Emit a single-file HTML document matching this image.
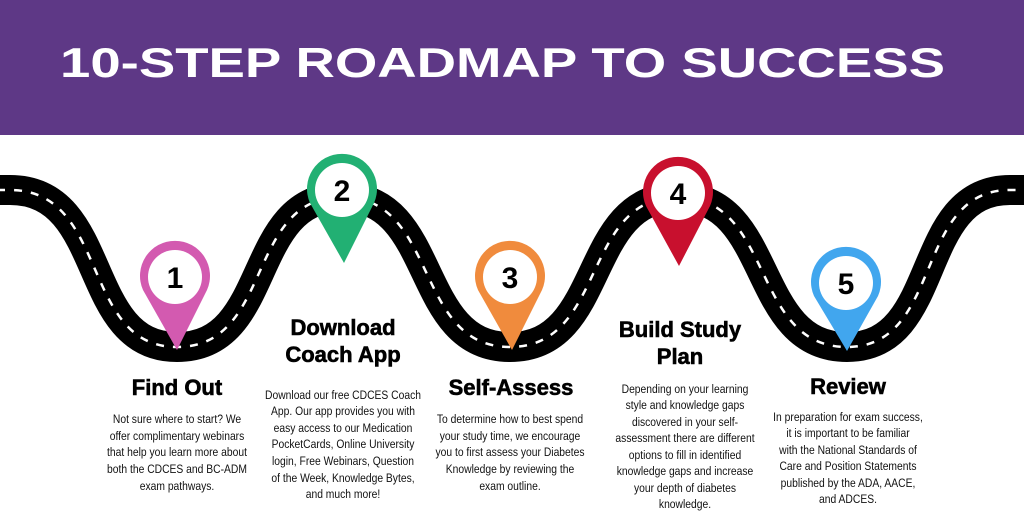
<!DOCTYPE html>
<html><head><meta charset="utf-8"><style>
html,body{margin:0;padding:0;background:#fff;}
svg{display:block;}
</style></head><body>
<svg width="1024" height="530" viewBox="0 0 1024 530" xmlns="http://www.w3.org/2000/svg">
<rect x="0" y="0" width="1024" height="135" fill="#5e3886"/>
<text x="60" y="77" fill="#fff" font-family="Liberation Sans, sans-serif" font-weight="bold" font-size="42" textLength="885" lengthAdjust="spacingAndGlyphs">10-STEP ROADMAP TO SUCCESS</text>

<g fill="none">
<path d="M-20,190 L10,190 C110,190 80,347 177,347 C274,347 245,197 342,197 C439,197 413,347 510,347 C607,347 581,197 678,197 C775,197 750,347 847,347 C944,347 913,190 1010,190 L1044,190" stroke="#000" stroke-width="30"/>
<path d="M-20,190 L10,190 C110,190 80,347 177,347 C274,347 245,197 342,197 C439,197 413,347 510,347 C607,347 581,197 678,197 C775,197 750,347 847,347 C944,347 913,190 1010,190 L1044,190" stroke="#fff" stroke-width="2.5" stroke-dasharray="8 9"/>
</g>

<g font-family="Liberation Sans, sans-serif" font-weight="bold" font-size="30" text-anchor="middle">
<g><path d="M143,290 A35,35 0 1 1 207,290 L177,350 Z" fill="#d35ab0"/><circle cx="175" cy="277" r="27" fill="#fff"/><text x="175" y="288">1</text></g>
<g><path d="M310,203 A35,35 0 1 1 374,203 L344,263 Z" fill="#22b073"/><circle cx="342" cy="190" r="27" fill="#fff"/><text x="342" y="201">2</text></g>
<g><path d="M478,290 A35,35 0 1 1 542,290 L512,350 Z" fill="#f08b3d"/><circle cx="510" cy="277" r="27" fill="#fff"/><text x="510" y="288">3</text></g>
<g><path d="M646,206 A35,35 0 1 1 710,206 L679,266 Z" fill="#c8102e"/><circle cx="678" cy="193" r="27" fill="#fff"/><text x="678" y="204">4</text></g>
<g><path d="M814,296 A35,35 0 1 1 878,296 L847,351 Z" fill="#41a6ee"/><circle cx="846" cy="283" r="27" fill="#fff"/><text x="846" y="294">5</text></g>
</g>

<g font-family="Liberation Sans, sans-serif" font-weight="bold" font-size="22" text-anchor="middle" fill="#000" stroke="#000" stroke-width="0.6">
<text x="177" y="395">Find Out</text>
<text x="343" y="335">Download</text>
<text x="343" y="362">Coach App</text>
<text x="511" y="395">Self-Assess</text>
<text x="680" y="337">Build Study</text>
<text x="680" y="364">Plan</text>
<text x="848" y="394">Review</text>
</g>

<g font-family="Liberation Sans, sans-serif" font-size="12" text-anchor="middle" fill="#111">
<g transform="translate(177,0) scale(0.86,1)">
<text x="0" y="423">Not sure where to start? We</text>
<text x="0" y="440">offer complimentary webinars</text>
<text x="0" y="456">that help you learn more about</text>
<text x="0" y="473">both the CDCES and BC-ADM</text>
<text x="0" y="490">exam pathways.</text>
</g>
<g transform="translate(343,0) scale(0.86,1)">
<text x="0" y="399">Download our free CDCES Coach</text>
<text x="0" y="415">App. Our app provides you with</text>
<text x="0" y="432">easy access to our Medication</text>
<text x="0" y="448">PocketCards, Online University</text>
<text x="0" y="465">login, Free Webinars, Question</text>
<text x="0" y="482">of the Week, Knowledge Bytes,</text>
<text x="0" y="498">and much more!</text>
</g>
<g transform="translate(510,0) scale(0.86,1)">
<text x="0" y="423">To determine how to best spend</text>
<text x="0" y="440">your study time, we encourage</text>
<text x="0" y="456">you to first assess your Diabetes</text>
<text x="0" y="473">Knowledge by reviewing the</text>
<text x="0" y="490">exam outline.</text>
</g>
<g transform="translate(685,0) scale(0.86,1)">
<text x="0" y="393">Depending on your learning</text>
<text x="0" y="409">style and knowledge gaps</text>
<text x="0" y="426">discovered in your self-</text>
<text x="0" y="442">assessment there are different</text>
<text x="0" y="459">options to fill in identified</text>
<text x="0" y="475">knowledge gaps and increase</text>
<text x="0" y="492">your depth of diabetes</text>
<text x="0" y="508">knowledge.</text>
</g>
<g transform="translate(848,0) scale(0.86,1)">
<text x="0" y="421">In preparation for exam success,</text>
<text x="0" y="437">it is important to be familiar</text>
<text x="0" y="454">with the National Standards of</text>
<text x="0" y="470">Care and Position Statements</text>
<text x="0" y="487">published by the ADA, AACE,</text>
<text x="0" y="503">and ADCES.</text>
</g>
</g>
</svg>
</body></html>
